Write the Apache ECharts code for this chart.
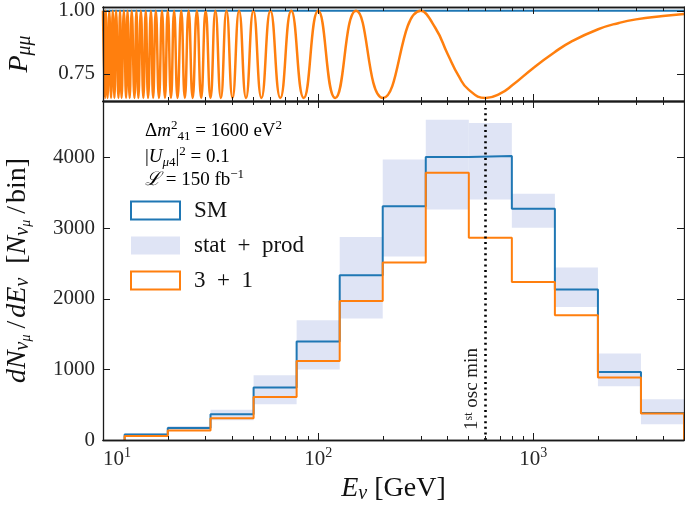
<!DOCTYPE html>
<html>
<head>
<meta charset="utf-8">
<script src="https://cdn.jsdelivr.net/npm/echarts@6/dist/echarts.min.js"></script>
<style>
  html, body { margin: 0; padding: 0; background: #fff; }
  #chart { width: 685px; height: 506px; }
</style>
</head>
<body>
<div id="chart"></div>
<script>
// ---- data ----
// histogram bin edges, GeV
var binEdges = [12.6, 20.0, 31.6, 50.1, 79.4, 125.9, 199.5, 316.2, 501.2, 794.3, 1258.9, 1995.3, 3162.3, 5011.9];
var smCounts = [78, 171, 365, 743, 1394, 2332, 3308, 4006, 4020, 3276, 2130, 964, 384];
var sterileCounts = [58, 134, 308, 610, 1120, 1968, 2512, 3785, 2865, 2237, 1766, 884, 375];
var bandLow = [55, 140, 280, 507, 997, 1719, 2600, 3262, 3407, 3007, 1884, 761, 224];
var bandHigh = [95, 200, 430, 917, 1694, 2874, 3973, 4535, 4487, 3488, 2441, 1224, 577];

// P_mumu panel: positions of the maxima / minima of the oscillation, plus the smooth tail
var oscPeakE = [300, 150, 100, 75, 60, 50, 42.9, 37.5, 33.3, 30, 27.3, 25, 23.1, 21.4, 20, 18.8, 17.6, 16.7,
                15.8, 15, 14.3, 13.6, 13, 12.5, 12, 11.5, 11.1, 10.7, 10.3, 10];
var oscTroughE = [600, 200, 120, 85.7, 66.7, 54.5, 46.2, 40, 35.3, 31.6, 28.6, 26.1, 24, 22.2, 20.7, 19.4, 18.2,
                  17.1, 16.2, 15.4, 14.6, 14, 13.3, 12.8, 12.2, 11.8, 11.3, 10.9, 10.5, 10.2];
var oscPeakP = 1.0;
var oscTroughP = 0.655;
var tailE = [350, 400, 450, 500, 700, 800, 1000, 1250, 1500, 2000, 2500, 3000, 4000, 5011.9];
var tailP = [0.933, 0.828, 0.741, 0.688, 0.672, 0.706, 0.774, 0.835, 0.878, 0.927, 0.952, 0.966, 0.979, 0.987];
var smLineE = [10, 5011.9];
var smLineP = [1.0, 1.0];

var oscMinE = 600;
var oscLineTop = 4700;

// axis ticks
var xMajorE = [10, 100, 1000];
var xMinorE = [20, 30, 40, 50, 60, 70, 80, 90, 200, 300, 400, 500, 600, 700, 800, 900, 2000, 3000, 4000, 5000];
var pTicks = [0.75, 1.0];
var countTicks = [0, 1000, 2000, 3000, 4000];

// ---- style ----
var FONT = 'Liberation Serif';
var BLUE = '#1f77b4', ORANGE = '#ff7f0e', BAND = '#dfe4f5', INK = '#1a1a1a';
var X_MIN = 1, X_MAX = Math.log10(5011.9);

function lg(v) { return Math.log10(v); }

function xAxisDef(grid, pos, ticksE, len, withLabels) {
    return {
        type: 'value', gridIndex: grid, position: pos, min: X_MIN, max: X_MAX, z: 10,
        axisLine: { show: true, onZero: false, lineStyle: { color: INK, width: 1.3 } },
        axisTick: { show: true, inside: true, length: len, customValues: ticksE.map(lg),
                    lineStyle: { color: INK, width: 1 } },
        axisLabel: withLabels ? {
            show: true, margin: 6, customValues: xMajorE.map(lg), alignMinLabel: 'left',
            fontFamily: FONT, fontSize: 21, color: '#262626',
            formatter: function (v) { return '{b|10}{s|' + Math.round(v) + '}'; },
            rich: {
                b: { fontFamily: FONT, fontSize: 21, color: '#262626', lineHeight: 24, verticalAlign: 'bottom' },
                s: { fontFamily: FONT, fontSize: 14, color: '#262626', lineHeight: 14, verticalAlign: 'top' }
            }
        } : { show: false },
        splitLine: { show: false }
    };
}

function yAxisDef(grid, pos, min, max, ticks, withLabels, fmt) {
    return {
        type: 'value', gridIndex: grid, position: pos, min: min, max: max, z: 10,
        axisLine: { show: true, onZero: false, lineStyle: { color: INK, width: 1.3 } },
        axisTick: { show: true, inside: true, length: 7, customValues: ticks,
                    lineStyle: { color: INK, width: 1 } },
        axisLabel: withLabels ? {
            show: true, margin: 8, customValues: ticks,
            fontFamily: FONT, fontSize: 21, color: '#262626', formatter: fmt
        } : { show: false },
        splitLine: { show: false }
    };
}

// step outline like a histogram drawn with histtype='step'
function stepPoints(counts) {
    var pts = [[lg(binEdges[0]), 0]];
    for (var i = 0; i < counts.length; i++) {
        pts.push([lg(binEdges[i]), counts[i]]);
        pts.push([lg(binEdges[i + 1]), counts[i]]);
    }
    pts.push([lg(binEdges[binEdges.length - 1]), 0]);
    return pts;
}

function oscPoints() {
    var pts = [];
    oscPeakE.forEach(function (e) { pts.push([e, oscPeakP]); });
    oscTroughE.forEach(function (e) { pts.push([e, oscTroughP]); });
    tailE.forEach(function (e, i) { pts.push([e, tailP[i]]); });
    pts.sort(function (a, b) { return a[0] - b[0]; });
    return pts.map(function (p) { return [lg(p[0]), p[1]]; });
}

var bandData = bandLow.map(function (lo, i) {
    return [lg(binEdges[i]), lg(binEdges[i + 1]), lo, bandHigh[i]];
});

var noteRich = {
    r: { fontFamily: FONT, fontSize: 19, color: '#222', lineHeight: 24 },
    i: { fontFamily: FONT, fontStyle: 'italic', fontSize: 19, color: '#222', lineHeight: 24 },
    sup: { fontFamily: FONT, fontSize: 13, color: '#222', lineHeight: 12, verticalAlign: 'top' },
    sub: { fontFamily: FONT, fontSize: 13, color: '#222', lineHeight: 12, verticalAlign: 'bottom' },
    subi: { fontFamily: FONT, fontStyle: 'italic', fontSize: 13, color: '#222', lineHeight: 12, verticalAlign: 'bottom' }
};

var titleRich = {
    i: { fontFamily: FONT, fontStyle: 'italic', fontSize: 28, color: '#111', lineHeight: 30 },
    r: { fontFamily: FONT, fontSize: 28, color: '#111', lineHeight: 30 },
    sl: { fontFamily: FONT, fontSize: 28, color: '#111', lineHeight: 30, padding: [0, 3, 0, 3] },
    s: { fontFamily: FONT, fontStyle: 'italic', fontSize: 20, color: '#111', lineHeight: 18, verticalAlign: 'bottom' },
    ss: { fontFamily: FONT, fontStyle: 'italic', fontSize: 14, color: '#111', lineHeight: 10, verticalAlign: 'bottom',
          padding: [0, 3, 0, 0] }
};

var chart = echarts.init(document.getElementById('chart'));

var option = {
    animation: false,
    backgroundColor: '#fff',
    grid: [
        { left: 103, right: 1, top: 7, height: 94, containLabel: false, outerBoundsMode: 'none' },
        { left: 103, right: 1, top: 101, height: 339, containLabel: false, outerBoundsMode: 'none' }
    ],
    legend: {
        orient: 'vertical', left: 125, top: 194,
        itemWidth: 49, itemHeight: 18, itemGap: 12,
        selectedMode: false,
        textStyle: { fontFamily: FONT, fontSize: 23, color: '#111', lineHeight: 22, padding: [0, 0, 0, 9] },
        formatter: function (name) { return name.replace(' + ', '  +  '); },
        data: [
            { name: 'SM', icon: 'rect', itemStyle: { color: '#fff', borderColor: BLUE, borderWidth: 2 } },
            { name: 'stat + prod', icon: 'rect', itemStyle: { color: BAND, borderWidth: 0 } },
            { name: '3 + 1', icon: 'rect', itemStyle: { color: '#fff', borderColor: ORANGE, borderWidth: 2 } }
        ]
    },
    graphic: [
        { type: 'text', left: 145, top: 119, z: 20,
          style: { text: '{r|Δ}{i|m}{sup|2}{sub|41}{r| = 1600 eV}{sup|2}', rich: noteRich } },
        { type: 'text', left: 145, top: 145, z: 20,
          style: { text: '{r||}{i|U}{subi|μ}{sub|4}{r||}{sup|2}{r| = 0.1}', rich: noteRich } },
        { type: 'text', left: 145, top: 168, z: 20,
          style: { text: '{i|ℒ}{r| = 150 fb}{sup|−1}', rich: noteRich } }
    ],
    xAxis: [
        xAxisDef(0, 'bottom', xMajorE, 7, false),
        xAxisDef(0, 'top', xMajorE, 7, false),
        xAxisDef(0, 'bottom', xMinorE, 4, false),
        xAxisDef(0, 'top', xMinorE, 4, false),
        Object.assign(xAxisDef(1, 'bottom', xMajorE, 7, true), {
            name: '{i|E}{s|ν}{r| [GeV]}', nameLocation: 'middle', nameGap: 34,
            nameTextStyle: { rich: titleRich }
        }),
        xAxisDef(1, 'top', xMajorE, 7, false),
        xAxisDef(1, 'bottom', xMinorE, 4, false),
        xAxisDef(1, 'top', xMinorE, 4, false)
    ],
    yAxis: [
        Object.assign(yAxisDef(0, 'left', 0.643, 1.015, pTicks, true, function (v) { return v.toFixed(2); }), {
            name: '{i|P}{s|μμ}', nameLocation: 'middle', nameGap: 68, nameRotate: 90,
            nameTextStyle: { rich: titleRich }
        }),
        yAxisDef(0, 'right', 0.643, 1.015, pTicks, false),
        Object.assign(yAxisDef(1, 'left', 0, 4800, countTicks, true, function (v) { return String(v); }), {
            name: '{i|dN}{s|ν}{ss|μ}{sl|/}{i|dE}{s|ν}{r|  [}{i|N}{s|ν}{ss|μ}{sl|/}{r|bin]}',
            nameLocation: 'middle', nameGap: 70, nameRotate: 90,
            nameTextStyle: { rich: titleRich }
        }),
        yAxisDef(1, 'right', 0, 4800, countTicks, false)
    ],
    series: [
        {
            name: 'SM (P)', type: 'line', xAxisIndex: 0, yAxisIndex: 0,
            data: smLineE.map(function (e, i) { return [lg(e), smLineP[i]]; }),
            showSymbol: false, lineStyle: { color: BLUE, width: 2 }, z: 2
        },
        {
            name: '3 + 1 (P)', type: 'line', xAxisIndex: 0, yAxisIndex: 0,
            data: oscPoints(), smooth: 0.5,
            showSymbol: false, lineStyle: { color: ORANGE, width: 2.5 }, z: 3
        },
        {
            name: 'stat + prod', type: 'custom', xAxisIndex: 4, yAxisIndex: 2,
            itemStyle: { color: BAND },
            encode: { x: [0, 1], y: [2, 3] },
            data: bandData,
            renderItem: function (params, api) {
                var p0 = api.coord([api.value(0), api.value(3)]);
                var p1 = api.coord([api.value(1), api.value(2)]);
                return {
                    type: 'rect',
                    shape: { x: p0[0], y: p0[1], width: p1[0] - p0[0], height: p1[1] - p0[1] },
                    style: { fill: BAND }
                };
            },
            z: 1
        },
        {
            name: 'SM', type: 'line', xAxisIndex: 4, yAxisIndex: 2,
            data: stepPoints(smCounts), showSymbol: false,
            itemStyle: { color: BLUE }, lineStyle: { color: BLUE, width: 2 }, z: 3,
            markLine: {
                silent: true, symbol: 'none',
                lineStyle: { color: '#000', type: [2, 3.6], width: 2.6 },
                label: {
                    show: true, position: 'insideStartTop', distance: [10, 5],
                    formatter: '{n|1}{s|st}{n| osc min}',
                    rich: {
                        n: { fontFamily: FONT, fontSize: 19, color: '#222', lineHeight: 18 },
                        s: { fontFamily: FONT, fontSize: 12, color: '#222', lineHeight: 10, verticalAlign: 'top' }
                    }
                },
                data: [[{ coord: [lg(oscMinE), 0] }, { coord: [lg(oscMinE), oscLineTop] }]]
            }
        },
        {
            name: '3 + 1', type: 'line', xAxisIndex: 4, yAxisIndex: 2,
            data: stepPoints(sterileCounts), showSymbol: false,
            itemStyle: { color: ORANGE }, lineStyle: { color: ORANGE, width: 2 }, z: 4
        }
    ]
};

chart.setOption(option);
</script>
</body>
</html>
